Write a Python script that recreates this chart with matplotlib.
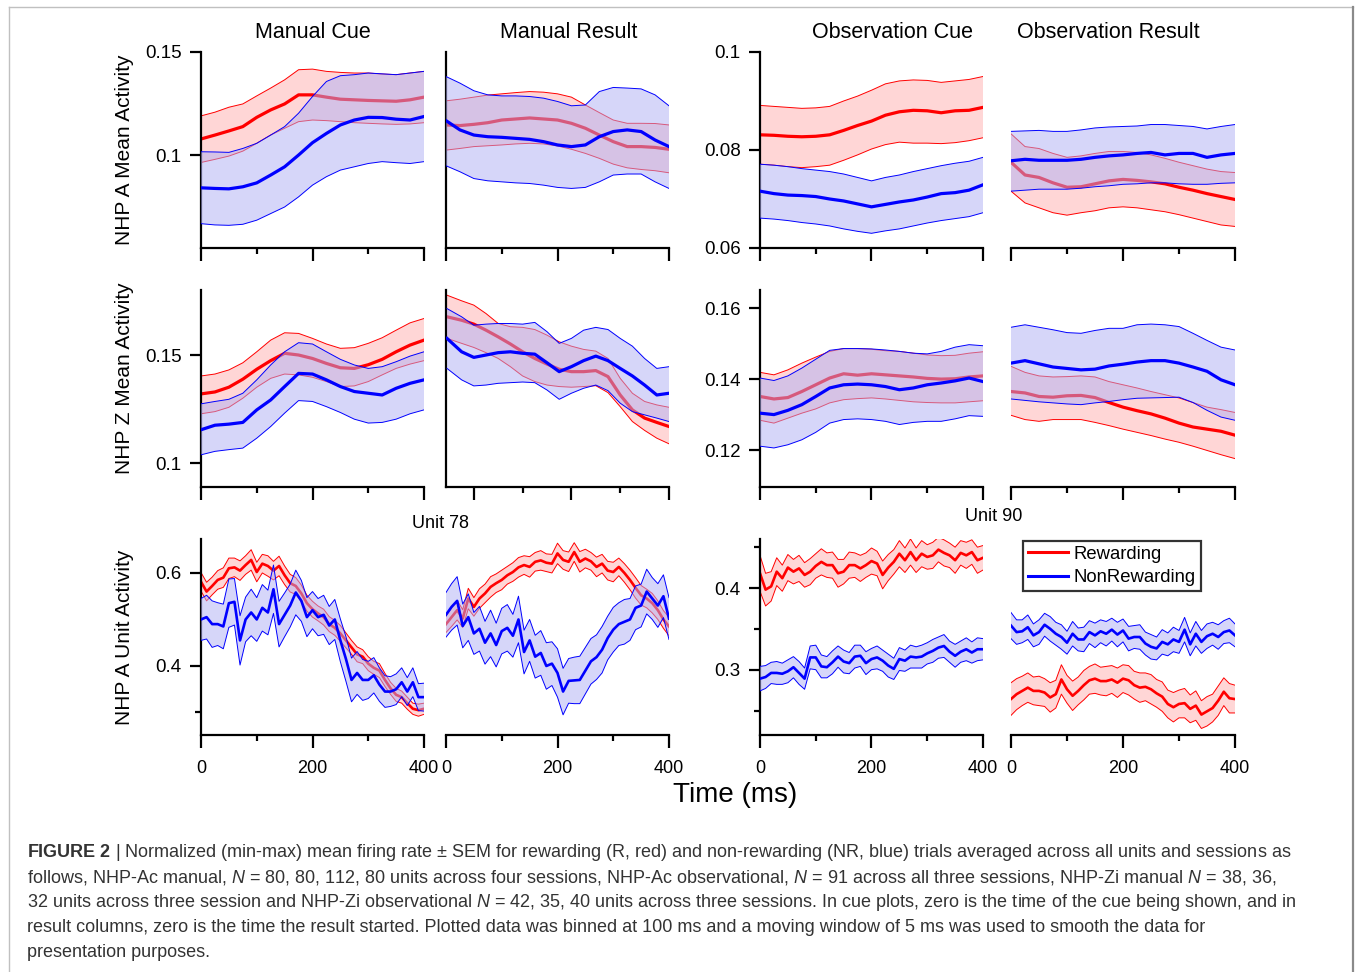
import numpy as np
import matplotlib
matplotlib.use("Agg")
import matplotlib.pyplot as plt
from matplotlib.lines import Line2D

plt.rcParams['font.family'] = ['Liberation Sans', 'DejaVu Sans']
plt.rcParams['mathtext.fontset'] = 'custom'
plt.rcParams['mathtext.rm'] = 'Liberation Sans'
plt.rcParams['mathtext.it'] = 'Liberation Sans:italic'
plt.rcParams['mathtext.bf'] = 'Liberation Sans:bold'

W, H = 1355, 972

# time grids (ms)
t_mean = list(range(0, 401, 25))
t_zres = [-55, -25] + list(range(0, 401, 25))
t_unit = list(range(0, 401, 10))

# ---------------- row 1 : NHP A mean activity ----------------
a_mcue_r = [0.1078, 0.1097, 0.1117, 0.1138, 0.1183, 0.1219, 0.1248, 0.1292, 0.1292, 0.1281, 0.1271, 0.1268, 0.1265, 0.1263, 0.1261, 0.1268, 0.1281]
a_mcue_r_hi = [0.1190, 0.1208, 0.1232, 0.1248, 0.1287, 0.1325, 0.1365, 0.1414, 0.1417, 0.1406, 0.1401, 0.1398, 0.1398, 0.1393, 0.1390, 0.1398, 0.1406]
a_mcue_r_lo = [0.0964, 0.0979, 0.0995, 0.1019, 0.1057, 0.1097, 0.1130, 0.1162, 0.1170, 0.1167, 0.1162, 0.1157, 0.1154, 0.1151, 0.1149, 0.1151, 0.1157]
a_mcue_b = [0.0841, 0.0838, 0.0836, 0.0846, 0.0865, 0.0903, 0.0943, 0.1000, 0.1060, 0.1105, 0.1146, 0.1170, 0.1183, 0.1182, 0.1174, 0.1170, 0.1187]
a_mcue_b_hi = [0.1016, 0.1015, 0.1013, 0.1032, 0.1057, 0.1097, 0.1138, 0.1203, 0.1284, 0.1357, 0.1385, 0.1390, 0.1398, 0.1394, 0.1390, 0.1398, 0.1406]
a_mcue_b_lo = [0.0667, 0.0661, 0.0659, 0.0664, 0.0684, 0.0716, 0.0748, 0.0797, 0.0854, 0.0895, 0.0927, 0.0943, 0.0959, 0.0968, 0.0963, 0.0959, 0.0968]

a_mres_r = [0.1146, 0.1143, 0.1149, 0.1157, 0.1170, 0.1175, 0.1180, 0.1175, 0.1170, 0.1154, 0.1130, 0.1097, 0.1065, 0.1041, 0.1041, 0.1037, 0.1028]
a_mres_r_hi = [0.1263, 0.1271, 0.1281, 0.1291, 0.1297, 0.1303, 0.1308, 0.1305, 0.1297, 0.1281, 0.1243, 0.1206, 0.1170, 0.1154, 0.1154, 0.1153, 0.1146]
a_mres_r_lo = [0.1024, 0.1032, 0.1041, 0.1045, 0.1049, 0.1054, 0.1057, 0.1054, 0.1044, 0.1028, 0.1008, 0.0984, 0.0956, 0.0938, 0.0930, 0.0924, 0.0914]
a_mres_b = [0.1167, 0.1122, 0.1097, 0.1089, 0.1086, 0.1081, 0.1076, 0.1065, 0.1049, 0.1041, 0.1049, 0.1089, 0.1114, 0.1122, 0.1114, 0.1073, 0.1041]
a_mres_b_hi = [0.1381, 0.1349, 0.1312, 0.1292, 0.1287, 0.1287, 0.1284, 0.1276, 0.1260, 0.1239, 0.1243, 0.1308, 0.1328, 0.1325, 0.1321, 0.1292, 0.1239]
a_mres_b_lo = [0.0948, 0.0919, 0.0886, 0.0875, 0.0870, 0.0865, 0.0862, 0.0854, 0.0843, 0.0838, 0.0843, 0.0870, 0.0903, 0.0908, 0.0908, 0.0870, 0.0838]

a_ocue_r = [0.0831, 0.0830, 0.0828, 0.0827, 0.0828, 0.0831, 0.0840, 0.0850, 0.0859, 0.0871, 0.0878, 0.0881, 0.0880, 0.0876, 0.0880, 0.0881, 0.0887]
a_ocue_r_hi = [0.0891, 0.0889, 0.0887, 0.0885, 0.0886, 0.0889, 0.0900, 0.0910, 0.0922, 0.0935, 0.0941, 0.0943, 0.0942, 0.0938, 0.0941, 0.0944, 0.0950]
a_ocue_r_lo = [0.0771, 0.0769, 0.0766, 0.0764, 0.0766, 0.0769, 0.0779, 0.0790, 0.0802, 0.0811, 0.0816, 0.0814, 0.0814, 0.0813, 0.0815, 0.0819, 0.0825]
a_ocue_b = [0.0716, 0.0711, 0.0708, 0.0707, 0.0705, 0.0700, 0.0696, 0.0690, 0.0684, 0.0689, 0.0694, 0.0698, 0.0704, 0.0711, 0.0713, 0.0718, 0.0729]
a_ocue_b_hi = [0.0771, 0.0769, 0.0766, 0.0762, 0.0759, 0.0756, 0.0751, 0.0744, 0.0737, 0.0744, 0.0749, 0.0756, 0.0762, 0.0768, 0.0773, 0.0777, 0.0785]
a_ocue_b_lo = [0.0661, 0.0659, 0.0656, 0.0652, 0.0649, 0.0645, 0.0639, 0.0634, 0.0630, 0.0635, 0.0639, 0.0645, 0.0651, 0.0656, 0.0660, 0.0664, 0.0672]

a_ores_r = [0.0775, 0.0749, 0.0744, 0.0733, 0.0724, 0.0725, 0.0731, 0.0737, 0.0740, 0.0738, 0.0735, 0.0731, 0.0724, 0.0718, 0.0711, 0.0705, 0.0699]
a_ores_r_hi = [0.0833, 0.0807, 0.0803, 0.0793, 0.0785, 0.0788, 0.0793, 0.0797, 0.0797, 0.0795, 0.0790, 0.0783, 0.0775, 0.0768, 0.0761, 0.0756, 0.0754]
a_ores_r_lo = [0.0716, 0.0692, 0.0682, 0.0672, 0.0667, 0.0672, 0.0676, 0.0682, 0.0684, 0.0682, 0.0678, 0.0674, 0.0668, 0.0661, 0.0654, 0.0647, 0.0644]
a_ores_b = [0.0778, 0.0781, 0.0779, 0.0779, 0.0779, 0.0781, 0.0785, 0.0788, 0.0790, 0.0793, 0.0795, 0.0790, 0.0793, 0.0793, 0.0785, 0.0790, 0.0793]
a_ores_b_hi = [0.0838, 0.0839, 0.0840, 0.0838, 0.0838, 0.0841, 0.0845, 0.0847, 0.0848, 0.0849, 0.0852, 0.0852, 0.0850, 0.0848, 0.0843, 0.0848, 0.0852]
a_ores_b_lo = [0.0716, 0.0718, 0.0720, 0.0720, 0.0720, 0.0722, 0.0725, 0.0727, 0.0730, 0.0731, 0.0733, 0.0733, 0.0731, 0.0730, 0.0730, 0.0732, 0.0733]

# ---------------- row 2 : NHP Z mean activity ----------------
z_mcue_r = [0.1320, 0.1329, 0.1351, 0.1388, 0.1434, 0.1474, 0.1508, 0.1500, 0.1484, 0.1461, 0.1441, 0.1438, 0.1455, 0.1480, 0.1515, 0.1546, 0.1569]
z_mcue_r_hi = [0.1403, 0.1412, 0.1431, 0.1464, 0.1515, 0.1569, 0.1603, 0.1600, 0.1577, 0.1551, 0.1531, 0.1534, 0.1554, 0.1580, 0.1615, 0.1649, 0.1669]
z_mcue_r_lo = [0.1228, 0.1238, 0.1258, 0.1300, 0.1351, 0.1392, 0.1412, 0.1408, 0.1397, 0.1377, 0.1354, 0.1357, 0.1377, 0.1408, 0.1438, 0.1458, 0.1474]
z_mcue_b = [0.1154, 0.1175, 0.1180, 0.1188, 0.1246, 0.1292, 0.1354, 0.1415, 0.1412, 0.1385, 0.1354, 0.1331, 0.1323, 0.1315, 0.1346, 0.1369, 0.1385]
z_mcue_b_hi = [0.1274, 0.1285, 0.1295, 0.1323, 0.1385, 0.1454, 0.1515, 0.1557, 0.1551, 0.1515, 0.1480, 0.1454, 0.1438, 0.1446, 0.1469, 0.1495, 0.1515]
z_mcue_b_lo = [0.1038, 0.1054, 0.1062, 0.1069, 0.1115, 0.1169, 0.1231, 0.1289, 0.1285, 0.1261, 0.1234, 0.1203, 0.1185, 0.1188, 0.1203, 0.1228, 0.1246]

z_mres_r = [0.1677, 0.1661, 0.1643, 0.1615, 0.1584, 0.1551, 0.1515, 0.1484, 0.1458, 0.1434, 0.1423, 0.1423, 0.1428, 0.1400, 0.1315, 0.1246, 0.1208, 0.1188, 0.1169]
z_mres_r_hi = [0.1777, 0.1751, 0.1731, 0.1692, 0.1646, 0.1631, 0.1628, 0.1618, 0.1592, 0.1561, 0.1541, 0.1526, 0.1518, 0.1484, 0.1392, 0.1323, 0.1285, 0.1269, 0.1258]
z_mres_r_lo = [0.1577, 0.1554, 0.1535, 0.1511, 0.1484, 0.1446, 0.1403, 0.1377, 0.1361, 0.1354, 0.1351, 0.1354, 0.1358, 0.1326, 0.1261, 0.1192, 0.1151, 0.1115, 0.1089]
z_mres_b = [0.1577, 0.1515, 0.1489, 0.1500, 0.1511, 0.1515, 0.1508, 0.1504, 0.1464, 0.1423, 0.1446, 0.1474, 0.1495, 0.1474, 0.1438, 0.1403, 0.1361, 0.1315, 0.1323]
z_mres_b_hi = [0.1715, 0.1677, 0.1638, 0.1643, 0.1646, 0.1646, 0.1643, 0.1651, 0.1608, 0.1554, 0.1577, 0.1615, 0.1628, 0.1618, 0.1577, 0.1541, 0.1484, 0.1438, 0.1446]
z_mres_b_lo = [0.1438, 0.1385, 0.1357, 0.1361, 0.1369, 0.1372, 0.1375, 0.1372, 0.1338, 0.1295, 0.1323, 0.1346, 0.1361, 0.1335, 0.1277, 0.1238, 0.1223, 0.1208, 0.1192]

z_ocue_r = [0.1351, 0.1344, 0.1348, 0.1365, 0.1384, 0.1403, 0.1415, 0.1411, 0.1415, 0.1412, 0.1409, 0.1406, 0.1402, 0.1400, 0.1401, 0.1406, 0.1409]
z_ocue_r_hi = [0.1419, 0.1412, 0.1426, 0.1445, 0.1462, 0.1478, 0.1486, 0.1486, 0.1484, 0.1480, 0.1478, 0.1473, 0.1468, 0.1466, 0.1467, 0.1473, 0.1477]
z_ocue_r_lo = [0.1284, 0.1276, 0.1290, 0.1304, 0.1316, 0.1333, 0.1342, 0.1345, 0.1347, 0.1344, 0.1340, 0.1336, 0.1334, 0.1333, 0.1333, 0.1336, 0.1339]
z_ocue_b = [0.1304, 0.1300, 0.1312, 0.1328, 0.1351, 0.1375, 0.1384, 0.1386, 0.1384, 0.1379, 0.1370, 0.1375, 0.1384, 0.1389, 0.1395, 0.1403, 0.1393]
z_ocue_b_hi = [0.1403, 0.1396, 0.1409, 0.1431, 0.1456, 0.1481, 0.1486, 0.1486, 0.1485, 0.1482, 0.1478, 0.1473, 0.1471, 0.1478, 0.1490, 0.1497, 0.1494]
z_ocue_b_lo = [0.1211, 0.1206, 0.1215, 0.1229, 0.1250, 0.1276, 0.1286, 0.1288, 0.1286, 0.1281, 0.1272, 0.1278, 0.1281, 0.1281, 0.1288, 0.1297, 0.1295]

z_ores_r = [0.1365, 0.1361, 0.1351, 0.1349, 0.1353, 0.1354, 0.1348, 0.1334, 0.1321, 0.1311, 0.1302, 0.1290, 0.1276, 0.1265, 0.1259, 0.1253, 0.1242]
z_ores_r_hi = [0.1436, 0.1419, 0.1409, 0.1406, 0.1407, 0.1409, 0.1406, 0.1393, 0.1384, 0.1375, 0.1365, 0.1356, 0.1347, 0.1334, 0.1321, 0.1314, 0.1306]
z_ores_r_lo = [0.1298, 0.1286, 0.1281, 0.1286, 0.1286, 0.1286, 0.1278, 0.1269, 0.1259, 0.1250, 0.1241, 0.1231, 0.1222, 0.1211, 0.1199, 0.1187, 0.1176]
z_ores_b = [0.1445, 0.1452, 0.1443, 0.1434, 0.1430, 0.1426, 0.1428, 0.1437, 0.1442, 0.1448, 0.1452, 0.1452, 0.1445, 0.1434, 0.1422, 0.1398, 0.1384]
z_ores_b_hi = [0.1546, 0.1553, 0.1546, 0.1539, 0.1531, 0.1529, 0.1537, 0.1543, 0.1543, 0.1553, 0.1555, 0.1553, 0.1548, 0.1529, 0.1509, 0.1490, 0.1482]
z_ores_b_lo = [0.1344, 0.1340, 0.1336, 0.1333, 0.1330, 0.1328, 0.1333, 0.1337, 0.1342, 0.1346, 0.1347, 0.1348, 0.1349, 0.1334, 0.1312, 0.1293, 0.1284]

# ---------------- row 3 : single units (mean and SEM) ----------------
u78_cue_r = [0.581, 0.56, 0.572, 0.585, 0.59, 0.61, 0.612, 0.605, 0.617, 0.628, 0.602, 0.62, 0.615, 0.605, 0.615, 0.595, 0.578, 0.572, 0.556, 0.535, 0.522,
             0.513, 0.505, 0.49, 0.482, 0.47, 0.455, 0.44, 0.425, 0.42, 0.405, 0.396, 0.39, 0.37, 0.352, 0.338, 0.333, 0.32, 0.308, 0.305, 0.308]
u78_cue_r_sem = [0.02, 0.02, 0.019, 0.02, 0.021, 0.022, 0.02, 0.021, 0.02, 0.022, 0.021, 0.02, 0.022, 0.02, 0.021, 0.02, 0.019, 0.018, 0.018, 0.017, 0.017,
                 0.016, 0.017, 0.016, 0.016, 0.017, 0.016, 0.015, 0.016, 0.015, 0.015, 0.014, 0.015, 0.014, 0.013, 0.014, 0.013, 0.013, 0.012, 0.013, 0.012]
u78_cue_b = [0.50, 0.505, 0.49, 0.49, 0.485, 0.535, 0.538, 0.455, 0.50, 0.515, 0.50, 0.525, 0.515, 0.565, 0.49, 0.51, 0.53, 0.558, 0.54, 0.505, 0.52,
             0.505, 0.51, 0.487, 0.50, 0.455, 0.415, 0.37, 0.385, 0.37, 0.37, 0.38, 0.36, 0.345, 0.345, 0.35, 0.365, 0.345, 0.365, 0.333, 0.333]
u78_cue_b_sem = [0.045, 0.047, 0.05, 0.046, 0.048, 0.052, 0.05, 0.053, 0.048, 0.05, 0.047, 0.05, 0.048, 0.052, 0.049, 0.047, 0.046, 0.048, 0.044, 0.042, 0.04,
                 0.04, 0.042, 0.041, 0.043, 0.046, 0.048, 0.047, 0.046, 0.044, 0.04, 0.038, 0.036, 0.034, 0.032, 0.033, 0.031, 0.03, 0.031, 0.029, 0.03]

u78_res_r = [0.49, 0.505, 0.52, 0.502, 0.545, 0.527, 0.545, 0.556, 0.57, 0.578, 0.585, 0.595, 0.602, 0.612, 0.617, 0.613, 0.624, 0.627, 0.622, 0.62, 0.642,
             0.628, 0.624, 0.645, 0.624, 0.631, 0.625, 0.613, 0.62, 0.605, 0.602, 0.613, 0.6, 0.585, 0.568, 0.552, 0.545, 0.535, 0.52, 0.50, 0.485]
u78_res_r_sem = [0.018, 0.02, 0.021, 0.019, 0.022, 0.02, 0.021, 0.02, 0.022, 0.02, 0.021, 0.019, 0.02, 0.021, 0.02, 0.022, 0.02, 0.021, 0.019, 0.02, 0.022,
                 0.02, 0.021, 0.02, 0.022, 0.02, 0.019, 0.021, 0.02, 0.02, 0.021, 0.019, 0.02, 0.021, 0.022, 0.021, 0.02, 0.021, 0.02, 0.019, 0.02]
u78_res_b = [0.51, 0.527, 0.54, 0.486, 0.505, 0.47, 0.48, 0.45, 0.47, 0.445, 0.475, 0.482, 0.465, 0.5, 0.43, 0.455, 0.42, 0.428, 0.40, 0.405, 0.385,
             0.345, 0.368, 0.369, 0.37, 0.39, 0.41, 0.419, 0.435, 0.46, 0.478, 0.49, 0.495, 0.50, 0.525, 0.53, 0.56, 0.545, 0.53, 0.55, 0.502]
u78_res_b_sem = [0.048, 0.05, 0.052, 0.047, 0.05, 0.045, 0.048, 0.046, 0.05, 0.047, 0.049, 0.05, 0.046, 0.05, 0.047, 0.045, 0.046, 0.048, 0.05, 0.047, 0.052,
                 0.05, 0.048, 0.05, 0.051, 0.05, 0.049, 0.048, 0.05, 0.047, 0.048, 0.046, 0.048, 0.045, 0.047, 0.046, 0.048, 0.045, 0.047, 0.046, 0.045]

u90_cue_r = [0.418, 0.398, 0.402, 0.42, 0.412, 0.425, 0.42, 0.424, 0.416, 0.42, 0.427, 0.432, 0.428, 0.428, 0.418, 0.42, 0.428, 0.428, 0.424, 0.428, 0.433,
             0.43, 0.416, 0.425, 0.432, 0.442, 0.434, 0.444, 0.434, 0.442, 0.438, 0.44, 0.447, 0.443, 0.44, 0.434, 0.443, 0.44, 0.444, 0.434, 0.437]
u90_cue_r_sem = [0.022, 0.02, 0.018, 0.017, 0.016, 0.016, 0.015, 0.016, 0.015, 0.016, 0.015, 0.016, 0.015, 0.016, 0.017, 0.015, 0.016, 0.015, 0.016, 0.015, 0.016,
                 0.015, 0.017, 0.016, 0.015, 0.016, 0.015, 0.016, 0.015, 0.016, 0.015, 0.016, 0.015, 0.016, 0.015, 0.016, 0.015, 0.016, 0.015, 0.016, 0.015]
u90_cue_b = [0.289, 0.291, 0.296, 0.296, 0.295, 0.298, 0.303, 0.296, 0.289, 0.315, 0.315, 0.304, 0.303, 0.309, 0.316, 0.31, 0.308, 0.316, 0.317, 0.308, 0.313,
             0.315, 0.311, 0.305, 0.301, 0.313, 0.311, 0.316, 0.315, 0.316, 0.32, 0.323, 0.327, 0.329, 0.322, 0.317, 0.322, 0.325, 0.321, 0.325, 0.325]
u90_cue_b_sem = [0.015, 0.014, 0.013, 0.014, 0.013, 0.014, 0.013, 0.014, 0.013, 0.014, 0.015, 0.014, 0.013, 0.014, 0.013, 0.014, 0.013, 0.014, 0.013, 0.014, 0.013,
                 0.014, 0.013, 0.014, 0.013, 0.014, 0.013, 0.014, 0.013, 0.014, 0.013, 0.014, 0.013, 0.014, 0.013, 0.014, 0.013, 0.014, 0.013, 0.014, 0.013]

u90_res_r = [0.264, 0.27, 0.274, 0.278, 0.274, 0.274, 0.272, 0.266, 0.27, 0.288, 0.276, 0.268, 0.274, 0.281, 0.287, 0.289, 0.286, 0.286, 0.288, 0.284, 0.289,
             0.287, 0.281, 0.278, 0.279, 0.276, 0.271, 0.267, 0.258, 0.254, 0.258, 0.259, 0.252, 0.256, 0.245, 0.249, 0.253, 0.262, 0.273, 0.265, 0.264]
u90_res_r_sem = [0.02, 0.019, 0.018, 0.018, 0.017, 0.018, 0.017, 0.018, 0.017, 0.018, 0.017, 0.018, 0.017, 0.018, 0.017, 0.018, 0.017, 0.018, 0.017, 0.018, 0.017,
                 0.018, 0.017, 0.018, 0.017, 0.018, 0.017, 0.018, 0.017, 0.018, 0.017, 0.018, 0.017, 0.018, 0.017, 0.018, 0.017, 0.018, 0.017, 0.018, 0.017]
u90_res_b = [0.354, 0.346, 0.347, 0.352, 0.342, 0.346, 0.355, 0.35, 0.344, 0.34, 0.333, 0.344, 0.337, 0.337, 0.346, 0.342, 0.347, 0.344, 0.349, 0.343, 0.348,
             0.338, 0.34, 0.34, 0.332, 0.328, 0.326, 0.334, 0.331, 0.337, 0.334, 0.349, 0.331, 0.344, 0.334, 0.341, 0.344, 0.34, 0.346, 0.348, 0.342]
u90_res_b_sem = [0.016, 0.015, 0.014, 0.015, 0.014, 0.015, 0.014, 0.015, 0.014, 0.015, 0.014, 0.015, 0.014, 0.015, 0.014, 0.015, 0.014, 0.015, 0.014, 0.015, 0.014,
                 0.015, 0.014, 0.015, 0.014, 0.015, 0.014, 0.015, 0.014, 0.015, 0.014, 0.015, 0.014, 0.015, 0.014, 0.015, 0.014, 0.015, 0.014, 0.015, 0.014]

col_titles = ['Manual Cue', 'Manual Result', 'Observation Cue', 'Observation Result']
row_labels = ['NHP A Mean Activity', 'NHP Z Mean Activity', 'NHP A Unit Activity']

caption_lines = [
    r'$\mathbf{FIGURE\ 2}$ | Normalized (min-max) mean firing rate ± SEM for rewarding (R, red) and non-rewarding (NR, blue) trials averaged across all units and sessions as',
    r'follows, NHP-Ac manual, $N$ = 80, 80, 112, 80 units across four sessions, NHP-Ac observational, $N$ = 91 across all three sessions, NHP-Zi manual $N$ = 38, 36,',
    r'32 units across three session and NHP-Zi observational $N$ = 42, 35, 40 units across three sessions. In cue plots, zero is the time of the cue being shown, and in',
    r'result columns, zero is the time the result started. Plotted data was binned at 100 ms and a moving window of 5 ms was used to smooth the data for',
    r'presentation purposes.',
]

RED = '#ff0000'
BLUE = '#0000ff'
RED_FILL = '#ffd6d6'
BLUE_FILL = (0.69, 0.69, 0.96)


def px_axes(x0, y0, x1, y1):
    a = fig.add_axes([x0 / W, 1 - y1 / H, (x1 - x0) / W, (y1 - y0) / H])
    a.set_facecolor('none')
    return a


def band(ax, t, mid, lo, hi, color, lw):
    t = np.asarray(t)
    if color == RED:
        ax.fill_between(t, lo, hi, facecolor=RED_FILL, lw=0, zorder=1)
        z = 1
    else:
        ax.fill_between(t, lo, hi, facecolor=BLUE_FILL, alpha=0.51, lw=0, zorder=4)
        z = 4
    ax.plot(t, lo, color=color, lw=0.7, zorder=z + 0.1)
    ax.plot(t, hi, color=color, lw=0.7, zorder=z + 0.1)
    ax.plot(t, mid, color=color, lw=lw, zorder=z + 0.2)


def band_sem(ax, t, mid, sem, color):
    mid = np.asarray(mid)
    sem = np.asarray(sem)
    band(ax, t, mid, mid - sem, mid + sem, color, 1.9)


def style(ax, ylim, yticks=None, ylabels=None, yminor=None, left=True, xlabels=False, xlim=(0, 400)):
    ax.set_xlim(*xlim)
    ax.set_ylim(*ylim)
    for s in ['top', 'right']:
        ax.spines[s].set_visible(False)
    ax.spines['left'].set_visible(left)
    ax.spines['left'].set_linewidth(1.6)
    ax.spines['bottom'].set_linewidth(1.6)
    ax.set_xticks([0, 200, 400])
    ax.set_xticks([100, 300], minor=True)
    ax.tick_params(axis='x', which='major', length=9, width=1.6, pad=9, labelsize=13)
    ax.tick_params(axis='x', which='minor', length=4.5, width=1.6)
    if not xlabels:
        ax.set_xticklabels([])
    if left and yticks is not None:
        ax.set_yticks(yticks)
        ax.set_yticklabels(ylabels)
        ax.set_yticks(yminor or [], minor=True)
        ax.tick_params(axis='y', which='major', length=8, width=1.6, pad=6, labelsize=13.5)
        ax.tick_params(axis='y', which='minor', length=4.5, width=1.6)
    else:
        ax.set_yticks([])
        ax.set_yticks([], minor=True)


fig = plt.figure(figsize=(W / 100, H / 100), dpi=100)

cols = [(201, 424), (446, 669), (760, 983), (1011, 1235)]
rows = [(52, 248), (290, 487), (539, 735)]

# row 1
ylim_a_m = (0.0549, 0.15)
ylim_a_o = (0.06, 0.10)

ax = px_axes(cols[0][0], rows[0][0], cols[0][1], rows[0][1])
band(ax, t_mean, a_mcue_r, a_mcue_r_lo, a_mcue_r_hi, RED, 2.3)
band(ax, t_mean, a_mcue_b, a_mcue_b_lo, a_mcue_b_hi, BLUE, 2.3)
style(ax, ylim_a_m, [0.1, 0.15], ['0.1', '0.15'])

ax = px_axes(cols[1][0], rows[0][0], cols[1][1], rows[0][1])
band(ax, t_mean, a_mres_r, a_mres_r_lo, a_mres_r_hi, RED, 2.3)
band(ax, t_mean, a_mres_b, a_mres_b_lo, a_mres_b_hi, BLUE, 2.3)
style(ax, ylim_a_m)

ax = px_axes(cols[2][0], rows[0][0], cols[2][1], rows[0][1])
band(ax, t_mean, a_ocue_r, a_ocue_r_lo, a_ocue_r_hi, RED, 2.3)
band(ax, t_mean, a_ocue_b, a_ocue_b_lo, a_ocue_b_hi, BLUE, 2.3)
style(ax, ylim_a_o, [0.06, 0.08, 0.1], ['0.06', '0.08', '0.1'])

ax = px_axes(cols[3][0], rows[0][0], cols[3][1], rows[0][1])
band(ax, t_mean, a_ores_r, a_ores_r_lo, a_ores_r_hi, RED, 2.3)
band(ax, t_mean, a_ores_b, a_ores_b_lo, a_ores_b_hi, BLUE, 2.3)
style(ax, ylim_a_o, left=False)

# row 2
ylim_z_m = (0.0889, 0.1801)
ylim_z_o = (0.1096, 0.1651)
ax = px_axes(cols[0][0], rows[1][0], cols[0][1], rows[1][1])
band(ax, t_mean, z_mcue_r, z_mcue_r_lo, z_mcue_r_hi, RED, 2.3)
band(ax, t_mean, z_mcue_b, z_mcue_b_lo, z_mcue_b_hi, BLUE, 2.3)
style(ax, ylim_z_m, [0.1, 0.15], ['0.1', '0.15'])

ax = px_axes(cols[1][0], rows[1][0], cols[1][1], rows[1][1])
band(ax, t_zres, z_mres_r, z_mres_r_lo, z_mres_r_hi, RED, 2.3)
band(ax, t_zres, z_mres_b, z_mres_b_lo, z_mres_b_hi, BLUE, 2.3)
style(ax, ylim_z_m, xlim=(-57, 400))

ax = px_axes(cols[2][0], rows[1][0], cols[2][1], rows[1][1])
band(ax, t_mean, z_ocue_r, z_ocue_r_lo, z_ocue_r_hi, RED, 2.3)
band(ax, t_mean, z_ocue_b, z_ocue_b_lo, z_ocue_b_hi, BLUE, 2.3)
style(ax, ylim_z_o, [0.12, 0.14, 0.16], ['0.12', '0.14', '0.16'])

ax = px_axes(cols[3][0], rows[1][0], cols[3][1], rows[1][1])
band(ax, t_mean, z_ores_r, z_ores_r_lo, z_ores_r_hi, RED, 2.3)
band(ax, t_mean, z_ores_b, z_ores_b_lo, z_ores_b_hi, BLUE, 2.3)
style(ax, ylim_z_o, left=False)

# row 3
ylim_u78 = (0.2516, 0.673)
ylim_u90 = (0.22, 0.46)
ax = px_axes(cols[0][0], rows[2][0], cols[0][1], rows[2][1])
band_sem(ax, t_unit, u78_cue_r, u78_cue_r_sem, RED)
band_sem(ax, t_unit, u78_cue_b, u78_cue_b_sem, BLUE)
style(ax, ylim_u78, [0.4, 0.6], ['0.4', '0.6'], [0.3], xlabels=True)

ax = px_axes(cols[1][0], rows[2][0], cols[1][1], rows[2][1])
band_sem(ax, t_unit, u78_res_r, u78_res_r_sem, RED)
band_sem(ax, t_unit, u78_res_b, u78_res_b_sem, BLUE)
style(ax, ylim_u78, left=False, xlabels=True)

ax = px_axes(cols[2][0], rows[2][0], cols[2][1], rows[2][1])
band_sem(ax, t_unit, u90_cue_r, u90_cue_r_sem, RED)
band_sem(ax, t_unit, u90_cue_b, u90_cue_b_sem, BLUE)
style(ax, ylim_u90, [0.3, 0.4], ['0.3', '0.4'], [0.25, 0.35, 0.45], xlabels=True)

ax = px_axes(cols[3][0], rows[2][0], cols[3][1], rows[2][1])
band_sem(ax, t_unit, u90_res_r, u90_res_r_sem, RED)
band_sem(ax, t_unit, u90_res_b, u90_res_b_sem, BLUE)
style(ax, ylim_u90, left=False, xlabels=True)

# titles and labels
title_x = [313, 569, 893, 1108]
for x, s in zip(title_x, col_titles):
    fig.text(x / W, 1 - 33 / H, s, ha='center', va='center', fontsize=15.5)
for y, s in zip([150, 378, 637], row_labels):
    fig.text(124 / W, 1 - y / H, s, ha='center', va='center', rotation=90, fontsize=15)
fig.text(440 / W, 1 - 523 / H, 'Unit 78', ha='center', va='center', fontsize=13)
fig.text(994 / W, 1 - 516 / H, 'Unit 90', ha='center', va='center', fontsize=13)
fig.text(735 / W, 1 - 795 / H, 'Time (ms)', ha='center', va='center', fontsize=20)

handles = [Line2D([], [], color=RED, lw=2.2), Line2D([], [], color=BLUE, lw=2.2)]
leg = fig.legend(handles, ['Rewarding', 'NonRewarding'], loc='upper left',
                 bbox_to_anchor=(1023 / W, 1 - 541 / H), fontsize=13.3, frameon=True,
                 fancybox=False, handlelength=2.2, handletextpad=0.3, borderpad=0.25,
                 labelspacing=0.35, borderaxespad=0)
leg.get_frame().set_edgecolor('black')
leg.get_frame().set_linewidth(1.6)

# caption
for i, s in enumerate(caption_lines):
    fig.text(27 / W, 1 - (852 + 25 * i) / H, s, ha='left', va='center', fontsize=13.0, color='#333333')

# page frame
fig.add_artist(Line2D([9 / W, 9 / W], [0, 1 - 7 / H], color='#c0c0c0', lw=1.0))
fig.add_artist(Line2D([9 / W, 1353 / W], [1 - 7 / H, 1 - 7 / H], color='#c0c0c0', lw=1.0))
fig.add_artist(Line2D([1353 / W, 1353 / W], [0, 1 - 7 / H], color='#8a8a8a', lw=1.6))

fig.savefig('out.png', dpi=100)
